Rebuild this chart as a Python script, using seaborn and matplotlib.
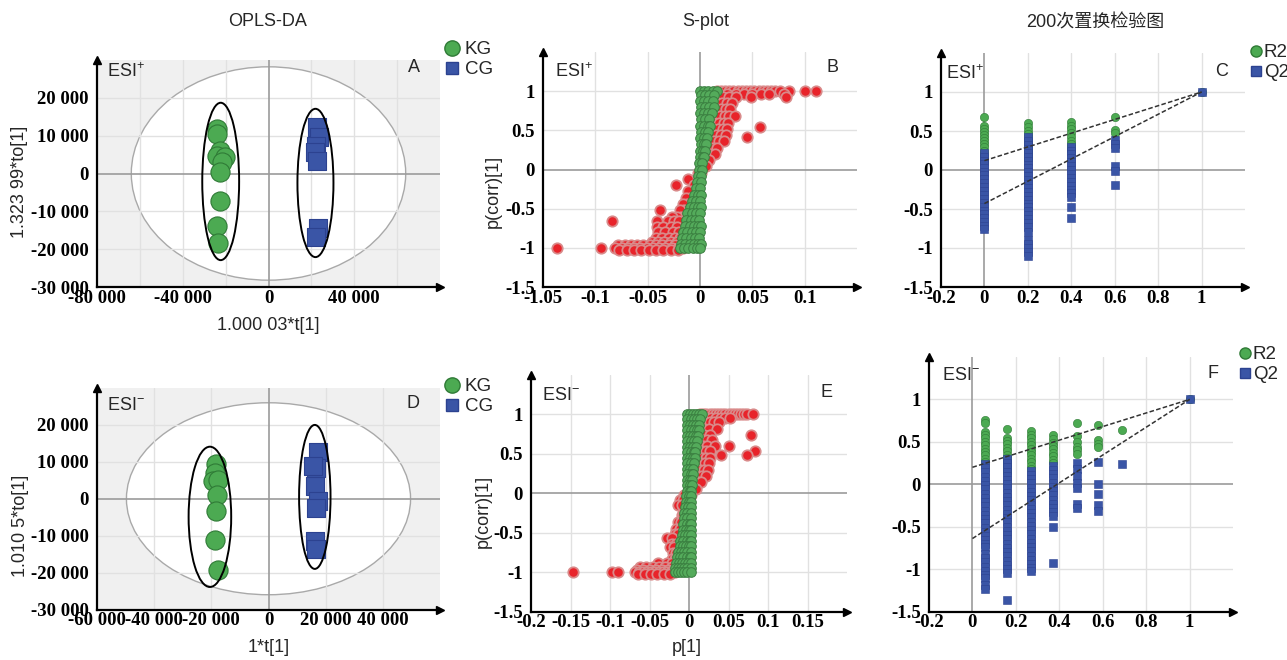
import numpy as np
import pandas as pd
import matplotlib
matplotlib.use("Agg")
import matplotlib.pyplot as plt
from matplotlib.patches import Ellipse
from matplotlib.lines import Line2D
import seaborn as sns

sns.set_style("white")
plt.rcParams['font.family'] = ['Liberation Sans', 'Noto Sans CJK SC', 'DejaVu Sans']
plt.rcParams['mathtext.fontset'] = 'custom'
plt.rcParams['mathtext.rm'] = 'Liberation Sans'
plt.rcParams['mathtext.it'] = 'Liberation Sans'

# ---------------- DATA ----------------
groups = ["KG", "CG"]
perm_labels = ["R2", "Q2"]

# OPLS-DA scores, ESI+
kg_pos_t = [-24000, -23900, -22800, -23900, -20500, -21550, -22500, -22500, -24000, -23400]
kg_pos_to = [11750, 10440, 6050, 4740, 4470, 3160, 350, -7370, -13950, -18250]
cg_pos_t = [22500, 23400, 22200, 21900, 22650, 22950, 22200]
cg_pos_to = [12200, 9560, 7190, 5610, 3420, -14390, -16760]
# ellipses (center x, center y, width, height)
hotelling_pos = (0, 0, 128000, 56400)
kg_ell_pos = (-22300, -2100, 17200, 41600)
cg_ell_pos = (21900, -2500, 16800, 39200)

# OPLS-DA scores, ESI-
kg_neg_t = [-18430, -18780, -19370, -17620, -18180, -18530, -18780, -17620]
kg_neg_to = [9460, 6940, 4680, 5140, 1080, -3240, -11260, -19190]
cg_neg_t = [17340, 16540, 15600, 16190, 17340, 16540, 16190, 16540]
cg_neg_to = [12790, 8290, 8740, 3330, -540, -2520, -11530, -13600]
hotelling_neg = (0, 0, 99400, 52000)
kg_ell_neg = (-20500, -4900, 14900, 38000)
cg_ell_neg = (16200, 500, 11000, 39000)

# S-plot ESI+ : rows of (p(corr), [p values])
splot_pos_red = [
    (1.00, [0.016, 0.020, 0.024, 0.028, 0.032, 0.036, 0.040, 0.044, 0.048, 0.052, 0.056, 0.060,
            0.064, 0.068, 0.072, 0.076, 0.085, 0.100, 0.111]),
    (0.97, [0.018, 0.026, 0.034, 0.042, 0.050, 0.058, 0.066, 0.080]),
    (0.92, [0.017, 0.022, 0.028, 0.034, 0.049, 0.082]),
    (0.85, [0.016, 0.021, 0.026, 0.031]),
    (0.77, [0.015, 0.020, 0.025, 0.029]),
    (0.68, [0.014, 0.019, 0.024, 0.028, 0.033]),
    (0.60, [0.013, 0.018, 0.023, 0.027]),
    (0.54, [0.057]),
    (0.52, [0.012, 0.017, 0.022, 0.026]),
    (0.44, [0.011, 0.015, 0.020, 0.025]),
    (0.41, [0.045]),
    (0.36, [0.009, 0.013, 0.018, 0.023]),
    (0.28, [0.008, 0.012, 0.016]),
    (0.20, [0.007, 0.010, 0.014]),
    (0.12, [0.005, 0.009]),
    (0.04, [0.003, 0.006]),
    (-0.04, [-0.002, 0.001]),
    (-0.12, [-0.004, -0.011]),
    (-0.20, [-0.006, -0.023]),
    (-0.28, [-0.008, -0.011]),
    (-0.36, [-0.010, -0.013]),
    (-0.44, [-0.012, -0.016]),
    (-0.52, [-0.015, -0.019, -0.038]),
    (-0.60, [-0.018, -0.022, -0.027]),
    (-0.66, [-0.084, -0.041, -0.031, -0.025, -0.020]),
    (-0.73, [-0.041, -0.035, -0.028, -0.022]),
    (-0.80, [-0.040, -0.033, -0.026, -0.020]),
    (-0.87, [-0.042, -0.036, -0.030, -0.024, -0.019]),
    (-0.93, [-0.046, -0.040, -0.034, -0.028, -0.022]),
    (-0.97, [-0.078, -0.072, -0.066, -0.060, -0.054, -0.048, -0.042, -0.036, -0.030, -0.024]),
    (-1.00, [-0.137, -0.095, -0.081, -0.075, -0.069, -0.063, -0.057, -0.051, -0.045, -0.039,
             -0.033, -0.027, -0.021, -0.016]),
    (-1.03, [-0.077, -0.070, -0.063, -0.056, -0.049, -0.042, -0.035, -0.028, -0.021]),
]
splot_pos_green = [
    (1.00, [0.000, 0.004, 0.008, 0.012, 0.016]),
    (0.95, [0.001, 0.005, 0.009, 0.013]),
    (0.88, [0.000, 0.004, 0.008, 0.012]),
    (0.80, [0.001, 0.005, 0.009, 0.013]),
    (0.72, [0.000, 0.004, 0.008, 0.011]),
    (0.64, [0.001, 0.005, 0.009]),
    (0.56, [0.000, 0.004, 0.008, 0.010]),
    (0.48, [0.001, 0.005, 0.008]),
    (0.40, [0.000, 0.004, 0.007]),
    (0.32, [0.001, 0.004, 0.006]),
    (0.24, [0.000, 0.003, 0.005]),
    (0.16, [0.000, 0.003, 0.004]),
    (0.08, [-0.001, 0.002]),
    (0.00, [-0.001, 0.002]),
    (-0.08, [-0.002, 0.001]),
    (-0.16, [-0.003, 0.001]),
    (-0.24, [-0.004, 0.000]),
    (-0.32, [-0.006, -0.002, 0.001]),
    (-0.40, [-0.008, -0.004, 0.000]),
    (-0.48, [-0.010, -0.006, -0.002, 0.001]),
    (-0.56, [-0.012, -0.008, -0.004, 0.000]),
    (-0.64, [-0.013, -0.009, -0.005, -0.001]),
    (-0.72, [-0.014, -0.010, -0.006, -0.002, 0.001]),
    (-0.80, [-0.016, -0.012, -0.008, -0.004, 0.000]),
    (-0.88, [-0.017, -0.013, -0.009, -0.005, -0.001]),
    (-0.95, [-0.018, -0.014, -0.010, -0.006, -0.002, 0.001]),
    (-1.00, [-0.019, -0.015, -0.011, -0.007, -0.003, 0.000]),
]

# S-plot ESI-
splot_neg_red = [
    (1.00, [0.014, 0.018, 0.022, 0.026, 0.030, 0.034, 0.038, 0.042, 0.046, 0.050, 0.054, 0.058,
            0.062, 0.066, 0.070, 0.074, 0.081]),
    (0.96, [0.016, 0.022, 0.028, 0.034, 0.040, 0.046, 0.052]),
    (0.90, [0.015, 0.020, 0.026, 0.032, 0.038]),
    (0.82, [0.014, 0.019, 0.025, 0.035]),
    (0.74, [0.014, 0.019, 0.027, 0.079]),
    (0.68, [0.013, 0.018, 0.023, 0.029]),
    (0.60, [0.013, 0.018, 0.023, 0.033, 0.051]),
    (0.53, [0.012, 0.017, 0.022, 0.027, 0.083]),
    (0.49, [0.041, 0.073]),
    (0.45, [0.011, 0.016, 0.021, 0.026]),
    (0.38, [0.010, 0.015, 0.020, 0.025]),
    (0.30, [0.009, 0.014, 0.019, 0.024]),
    (0.22, [0.008, 0.012, 0.017, 0.022]),
    (0.14, [0.007, 0.011, 0.015]),
    (0.06, [0.005, 0.009]),
    (-0.02, [0.002, -0.006]),
    (-0.08, [-0.012, -0.008]),
    (-0.15, [-0.0135, -0.009]),
    (-0.28, [-0.009, -0.007]),
    (-0.36, [-0.0135, -0.010]),
    (-0.45, [-0.016, -0.012]),
    (-0.52, [-0.018, -0.014]),
    (-0.57, [-0.028, -0.022]),
    (-0.64, [-0.021, -0.017]),
    (-0.68, [-0.024, -0.019]),
    (-0.76, [-0.020, -0.016]),
    (-0.83, [-0.022, -0.018]),
    (-0.89, [-0.039, -0.028, -0.021]),
    (-0.94, [-0.062, -0.054, -0.046, -0.038, -0.030, -0.022]),
    (-0.97, [-0.066, -0.058, -0.050, -0.042, -0.034, -0.026, -0.020]),
    (-1.00, [-0.147, -0.098, -0.090, -0.068, -0.063, -0.058, -0.053, -0.048, -0.043, -0.038,
             -0.033, -0.028, -0.023, -0.018]),
    (-1.02, [-0.064, -0.056, -0.048, -0.040, -0.032, -0.024]),
]
splot_neg_green = [
    (1.00, [-0.003, 0.001, 0.005, 0.009, 0.013, 0.016]),
    (0.94, [-0.002, 0.002, 0.006, 0.010, 0.014]),
    (0.87, [-0.003, 0.001, 0.005, 0.009, 0.013]),
    (0.80, [-0.002, 0.002, 0.006, 0.010, 0.013]),
    (0.73, [-0.003, 0.001, 0.005, 0.009, 0.012]),
    (0.66, [-0.002, 0.002, 0.006, 0.010]),
    (0.59, [-0.003, 0.001, 0.005, 0.009]),
    (0.52, [-0.002, 0.002, 0.006, 0.008]),
    (0.45, [-0.003, 0.001, 0.005, 0.007]),
    (0.38, [-0.002, 0.002, 0.006]),
    (0.31, [-0.003, 0.001, 0.005]),
    (0.24, [-0.002, 0.002, 0.005]),
    (0.17, [-0.003, 0.001, 0.004]),
    (0.10, [-0.003, 0.001, 0.004]),
    (0.03, [-0.003, 0.001, 0.003]),
    (-0.04, [-0.004, 0.000, 0.003]),
    (-0.11, [-0.004, 0.000, 0.003]),
    (-0.18, [-0.005, -0.001, 0.003]),
    (-0.25, [-0.006, -0.002, 0.002]),
    (-0.32, [-0.006, -0.002, 0.002]),
    (-0.39, [-0.007, -0.003, 0.001, 0.003]),
    (-0.46, [-0.008, -0.004, 0.000, 0.003]),
    (-0.53, [-0.009, -0.005, -0.001, 0.003]),
    (-0.60, [-0.011, -0.007, -0.003, 0.001, 0.003]),
    (-0.67, [-0.012, -0.008, -0.004, 0.000, 0.003]),
    (-0.74, [-0.014, -0.010, -0.006, -0.002, 0.002]),
    (-0.81, [-0.015, -0.011, -0.007, -0.003, 0.001, 0.003]),
    (-0.88, [-0.017, -0.013, -0.009, -0.005, -0.001, 0.003]),
    (-0.95, [-0.018, -0.014, -0.010, -0.006, -0.002, 0.002]),
    (-1.00, [-0.018, -0.014, -0.010, -0.006, -0.002, 0.002]),
]

# 200 permutation tests, ESI+
perm_pos_x = [0.0, 0.2, 0.4, 0.6, 1.0]
perm_pos_r2 = [
    [0.68, 0.57, 0.53, 0.49, 0.45, 0.41, 0.37, 0.33, 0.29, 0.25, 0.21, 0.17, 0.13, 0.10],
    [0.60, 0.55, 0.50, 0.46, 0.42, 0.38, 0.34, 0.30, 0.26, 0.22, 0.18, 0.14],
    [0.61, 0.57, 0.52, 0.47, 0.42, 0.37, 0.33, 0.29, 0.25],
    [0.68, 0.51, 0.47],
    [1.00],
]
perm_pos_q2 = [
    [0.22, 0.17, 0.12, 0.08, 0.03, -0.02, -0.07, -0.12, -0.17, -0.22, -0.27, -0.32, -0.37, -0.42,
     -0.47, -0.52, -0.57, -0.62, -0.67, -0.72, -0.76],
    [0.42, 0.37, 0.32, 0.27, 0.22, 0.17, 0.12, 0.07, 0.02, -0.03, -0.08, -0.13, -0.18, -0.23, -0.28,
     -0.33, -0.38, -0.43, -0.48, -0.53, -0.58, -0.63, -0.68, -0.73, -0.79, -0.90, -0.95, -1.00,
     -1.05, -1.10],
    [0.30, 0.25, 0.20, 0.15, 0.10, 0.05, 0.00, -0.05, -0.10, -0.15, -0.20, -0.25, -0.30, -0.35,
     -0.48, -0.62],
    [0.38, 0.33, 0.28, 0.05, -0.01, -0.19],
    [1.00],
]
perm_pos_r2_intercept = 0.12
perm_pos_q2_intercept = -0.43

# 200 permutation tests, ESI-
perm_neg_x = [0.06, 0.16, 0.27, 0.37, 0.48, 0.58, 0.69, 1.0]
perm_neg_r2 = [
    [0.76, 0.72, 0.62, 0.58, 0.54, 0.50, 0.46, 0.42, 0.38, 0.34, 0.30, 0.26],
    [0.65, 0.55, 0.51, 0.47, 0.43, 0.39, 0.35, 0.31, 0.27, 0.23, 0.19, 0.15],
    [0.63, 0.58, 0.54, 0.50, 0.46, 0.42, 0.38, 0.34, 0.30, 0.26, 0.22, 0.18],
    [0.58, 0.53, 0.49, 0.45, 0.41, 0.37, 0.33, 0.29, 0.25],
    [0.72, 0.57, 0.50, 0.44, 0.40, 0.36],
    [0.70, 0.52, 0.48, 0.44],
    [0.64],
    [1.00],
]
perm_neg_q2 = [
    [0.24, 0.19, 0.14, 0.09, 0.04, -0.01, -0.06, -0.11, -0.16, -0.21, -0.26, -0.31, -0.36, -0.41,
     -0.46, -0.51, -0.56, -0.61, -0.66, -0.71, -0.74, -0.82, -0.87, -0.92, -0.97, -1.02, -1.07,
     -1.10, -1.19, -1.24],
    [0.30, 0.25, 0.20, 0.15, 0.10, 0.05, 0.00, -0.05, -0.10, -0.15, -0.20, -0.25, -0.30, -0.35,
     -0.40, -0.45, -0.50, -0.55, -0.60, -0.65, -0.70, -0.75, -0.80, -0.85, -0.90, -0.95, -1.00,
     -1.05, -1.36],
    [0.16, 0.11, 0.06, 0.01, -0.04, -0.09, -0.14, -0.19, -0.24, -0.29, -0.34, -0.39, -0.44, -0.49,
     -0.54, -0.59, -0.64, -0.69, -0.74, -0.79, -0.84, -0.89, -0.94, -0.99, -1.02],
    [0.22, 0.17, 0.12, 0.07, 0.02, -0.03, -0.08, -0.13, -0.18, -0.23, -0.28, -0.33, -0.37, -0.50,
     -0.93],
    [0.25, 0.18, 0.10, 0.02, -0.05, -0.23, -0.28],
    [0.26, 0.00, -0.12, -0.25, -0.31],
    [0.24],
    [1.00],
]
perm_neg_r2_intercept = 0.20
perm_neg_q2_intercept = -0.64

# tick values
opls_pos_xticks = [-80000, -40000, 0, 40000]
opls_neg_xticks = [-60000, -40000, -20000, 0, 20000, 40000]
opls_yticks = [-30000, -20000, -10000, 0, 10000, 20000]
splot_pos_xticks = [-0.15, -0.1, -0.05, 0, 0.05, 0.1]
splot_pos_xlabels = ["-1.05", "-0.1", "-0.05", "0", "0.05", "0.1"]
splot_neg_xticks = [-0.2, -0.15, -0.1, -0.05, 0, 0.05, 0.1, 0.15]
splot_neg_xlabels = ["-0.2", "-0.15", "-0.1", "-0.05", "0", "0.05", "0.1", "0.15"]
corr_yticks = [-1.5, -1, -0.5, 0, 0.5, 1]
corr_ylabels = ["-1.5", "-1", "-0.5", "0", "0.5", "1"]
perm_xticks = [-0.2, 0, 0.2, 0.4, 0.6, 0.8, 1]
perm_xlabels = ["-0.2", "0", "0.2", "0.4", "0.6", "0.8", "1"]

# ---------------- STYLE ----------------
GREEN = "#4caa52"
GREEN_EDGE = "#2f7a36"
BLUE = "#3a55a6"
BLUE_EDGE = "#2c4290"
RED = "#e8232a"
RED_EDGE = "#d98a8a"
GRID = "#e1e1e1"
ZERO = "#9b9b9b"

W, H = 1287, 660


def rect(l, t, r, b):
    return [l / W, 1 - b / H, (r - l) / W, (b - t) / H]


def thousands(v):
    return f"{int(v):,}".replace(",", " ")


def style_axes(ax, xlim, ylim, xticks, xlabels, yticks, ylabels):
    ax.set_xlim(*xlim)
    ax.set_ylim(*ylim)
    for s in ["top", "right"]:
        ax.spines[s].set_visible(False)
    for s in ["left", "bottom"]:
        ax.spines[s].set_linewidth(1.6)
        ax.spines[s].set_color("black")
        ax.spines[s].set_zorder(6)
    ax.set_xticks(xticks)
    ax.set_xticklabels(xlabels)
    ax.set_yticks(yticks)
    ax.set_yticklabels(ylabels)
    ax.tick_params(axis="x", direction="in", length=5, width=1.3, pad=2, colors="black")
    ax.tick_params(axis="y", direction="out", length=5, width=1.3, pad=1, colors="black")
    for lbl in ax.get_xticklabels() + ax.get_yticklabels():
        lbl.set_fontfamily("Liberation Serif")
        lbl.set_fontweight("bold")
        lbl.set_fontsize(13.5)
    ax.set_xlabel("")
    ax.set_ylabel("")
    ax.plot([1], [0], marker=">", color="black", ms=6, transform=ax.transAxes, clip_on=False, zorder=7)
    ax.plot([0], [1], marker="^", color="black", ms=6, transform=ax.transAxes, clip_on=False, zorder=7)


def grid_lines(ax, xs, ys):
    for v in xs:
        ax.axvline(v, color=GRID, lw=1.0, zorder=1)
    for v in ys:
        ax.axhline(v, color=GRID, lw=1.0, zorder=1)
    ax.axvline(0, color=ZERO, lw=1.2, zorder=1.2)
    ax.axhline(0, color=ZERO, lw=1.2, zorder=1.2)


def rows_to_df(rows):
    xs, ys = [], []
    for y, xl in rows:
        for x in xl:
            xs.append(x)
            ys.append(y)
    return pd.DataFrame({"p": xs, "pcorr": ys})


def perm_df(xs, vals):
    px, py = [], []
    for x, col in zip(xs, vals):
        for v in col:
            px.append(x)
            py.append(v)
    return pd.DataFrame({"x": px, "y": py})


def opls_panel(ax, kg_t, kg_to, cg_t, cg_to, hot, kge, cge, xlim, xticks, gx):
    ax.set_facecolor("#f0f0f0")
    ax.add_patch(Ellipse((hot[0], hot[1]), hot[2], hot[3], facecolor="white",
                         edgecolor="#a9a9a9", lw=1.0, zorder=0.8))
    grid_lines(ax, gx, [-20000, -10000, 10000, 20000])
    for e in (kge, cge):
        ax.add_patch(Ellipse((e[0], e[1]), e[2], e[3], facecolor="none",
                             edgecolor="black", lw=1.4, zorder=5))
    dk = pd.DataFrame({"t": kg_t, "to": kg_to})
    dc = pd.DataFrame({"t": cg_t, "to": cg_to})
    sns.scatterplot(data=dk, x="t", y="to", ax=ax, color=GREEN, marker="o", s=190,
                    edgecolor=GREEN_EDGE, linewidth=0.8, legend=False, zorder=4)
    sns.scatterplot(data=dc, x="t", y="to", ax=ax, color=BLUE, marker="s", s=150,
                    edgecolor=BLUE_EDGE, linewidth=0.8, legend=False, zorder=4)
    style_axes(ax, xlim, (-30000, 30000), xticks, [thousands(v) for v in xticks],
               opls_yticks, [thousands(v) for v in opls_yticks])


def splot_panel(ax, red_rows, green_rows, xlim, xticks, xlabels, gx):
    grid_lines(ax, gx, [-1, -0.5, 0.5, 1])
    dr = rows_to_df(red_rows)
    dg = rows_to_df(green_rows)
    sns.scatterplot(data=dr, x="p", y="pcorr", ax=ax, color=RED, marker="o", s=56,
                    edgecolor=RED_EDGE, linewidth=1.3, legend=False, zorder=3)
    sns.scatterplot(data=dg, x="p", y="pcorr", ax=ax, color="#54ab5b", marker="o", s=48,
                    edgecolor="#3a7e40", linewidth=0.7, legend=False, zorder=4)
    style_axes(ax, xlim, (-1.5, 1.5), xticks, xlabels, corr_yticks, corr_ylabels)


def perm_panel(ax, xs, r2, q2, b_r2, b_q2):
    grid_lines(ax, [0.2, 0.4, 0.6, 0.8, 1.0], [-1, -0.5, 0.5, 1])
    dr = perm_df(xs, r2)
    dq = perm_df(xs, q2)
    sns.scatterplot(data=dr, x="x", y="y", ax=ax, color=GREEN, marker="o", s=36,
                    edgecolor=GREEN_EDGE, linewidth=0.4, legend=False, zorder=3)
    sns.scatterplot(data=dq, x="x", y="y", ax=ax, color=BLUE, marker="s", s=28,
                    edgecolor=BLUE_EDGE, linewidth=0.4, legend=False, zorder=4)
    x_end = xs[-1]
    ax.plot([0, x_end], [b_r2, r2[-1][0]], ls=(0, (3, 1.5)), color="#333333", lw=1.1, zorder=5)
    ax.plot([0, x_end], [b_q2, q2[-1][0]], ls=(0, (3, 1.5)), color="#333333", lw=1.1, zorder=5)
    style_axes(ax, (-0.2, 1.2), (-1.5, 1.5), perm_xticks, perm_xlabels, corr_yticks, corr_ylabels)


# ---------------- FIGURE ----------------
fig = plt.figure(figsize=(12.87, 6.6), dpi=100)

axA = fig.add_axes(rect(97, 60, 440, 287))
opls_panel(axA, kg_pos_t, kg_pos_to, cg_pos_t, cg_pos_to, hotelling_pos, kg_ell_pos, cg_ell_pos,
           (-80000, 80000), opls_pos_xticks, [-60000, -40000, -20000, 20000, 40000, 60000])
axD = fig.add_axes(rect(97, 388, 440, 609.5))
opls_panel(axD, kg_neg_t, kg_neg_to, cg_neg_t, cg_neg_to, hotelling_neg, kg_ell_neg, cg_ell_neg,
           (-60000, 60000), opls_neg_xticks, [-40000, -20000, 20000, 40000])

axB = fig.add_axes(rect(543, 52, 857, 287))
splot_panel(axB, splot_pos_red, splot_pos_green, (-0.15, 0.15), splot_pos_xticks, splot_pos_xlabels,
            [-0.1, -0.05, 0.05, 0.1])
axE = fig.add_axes(rect(531, 375, 847, 611.5))
splot_panel(axE, splot_neg_red, splot_neg_green, (-0.2, 0.2), splot_neg_xticks, splot_neg_xlabels,
            [-0.15, -0.1, -0.05, 0.05, 0.1, 0.15])

axC = fig.add_axes(rect(941, 53, 1245, 287))
perm_panel(axC, perm_pos_x, perm_pos_r2, perm_pos_q2, perm_pos_r2_intercept, perm_pos_q2_intercept)
axF = fig.add_axes(rect(929, 357, 1233, 611.5))
perm_panel(axF, perm_neg_x, perm_neg_r2, perm_neg_q2, perm_neg_r2_intercept, perm_neg_q2_intercept)


def ftext(x, y, s, **kw):
    kw.setdefault("fontsize", 13)
    kw.setdefault("ha", "center")
    kw.setdefault("va", "center")
    fig.text(x / W, 1 - y / H, s, **kw)


# titles
ftext(268, 22, "OPLS-DA")
ftext(706, 22, "S-plot")
ftext(1095, 23, "200次置换检验图")

# axis labels
ftext(20, 182, "1.323 99*to[1]", rotation=90)
ftext(268, 325, "1.000 03*t[1]")
ftext(493, 191, "p(corr)[1]", rotation=90)
ftext(21, 526, "1.010 5*to[1]", rotation=90)
ftext(269, 648, "1*t[1]")
ftext(483, 511, "p(corr)[1]", rotation=90)
ftext(687, 648, "p[1]")

# ESI labels
ftext(107, 72, r"ESI$^{+}$", ha="left")
ftext(555, 72, r"ESI$^{+}$", ha="left")
ftext(946, 74, r"ESI$^{+}$", ha="left")
ftext(107, 405, r"ESI$^{-}$", ha="left")
ftext(542, 395, r"ESI$^{-}$", ha="left")
ftext(942, 375, r"ESI$^{-}$", ha="left")

# panel letters
ftext(414, 68, "A")
ftext(832, 68, "B")
ftext(1222, 71, "C")
ftext(413, 404, "D")
ftext(827, 392, "E")
ftext(1213, 373, "F")

# legends
grp_handles = [Line2D([], [], marker="o", ls="", color=GREEN, mec=GREEN_EDGE, ms=11),
               Line2D([], [], marker="s", ls="", color=BLUE, mec=BLUE_EDGE, ms=9)]
perm_handles = [Line2D([], [], marker="o", ls="", color=GREEN, mec=GREEN_EDGE, ms=8),
                Line2D([], [], marker="s", ls="", color=BLUE, mec=BLUE_EDGE, ms=6.5)]
leg_kw = dict(loc="upper left", frameon=False, fontsize=13.5, handletextpad=0.15,
              labelspacing=0.15, borderaxespad=0, borderpad=0, handlelength=1.0)
fig.legend(grp_handles, groups, bbox_to_anchor=(443 / W, 1 - 41 / H), **leg_kw)
fig.legend(grp_handles, groups, bbox_to_anchor=(443 / W, 1 - 378 / H), **leg_kw)
perm_kw = dict(leg_kw)
perm_kw["handletextpad"] = 0.05
perm_kw["handlelength"] = 0.8
fig.legend(perm_handles, perm_labels, bbox_to_anchor=(1248 / W, 1 - 44 / H), **perm_kw)
fig.legend(perm_handles, perm_labels, bbox_to_anchor=(1237 / W, 1 - 346 / H), **perm_kw)

fig.savefig("out.png", dpi=100)
